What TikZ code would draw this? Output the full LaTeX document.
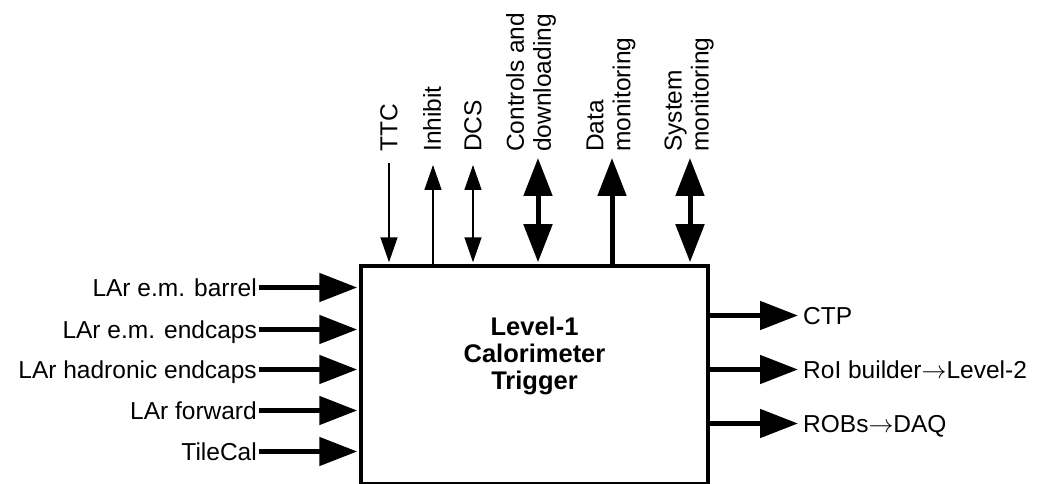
\documentclass[tikz,border=0pt]{standalone}
\usepackage{fontspec}
\setmainfont{Liberation Sans}
\usetikzlibrary{arrows.meta}
\begin{document}
\begin{tikzpicture}[x=1pt,y=-1pt,
  lbl/.style={font=\fontsize{24.5}{27}\selectfont, inner sep=0pt},
  toplbl/.style={lbl, rotate=90, anchor=west, align=left},
  thinline/.style={line width=1.5pt},
  thickline/.style={line width=5pt},
  tipS/.tip={Triangle[length=25pt,width=17pt]},
  tipL/.tip={Triangle[length=38pt,width=28pt]},
  mainbox/.style={draw, line width=3.5pt, minimum width=347pt, minimum height=218pt, inner sep=0pt}]
\useasboundingbox (0,0) rectangle (1037,484);
\node[mainbox] (box) at (534.5,375) {};
\node[font=\bfseries\fontsize{25.5}{27}\selectfont, align=center, inner sep=0pt] (title) at (534.5,356) {Level-1\\Calorimeter\\Trigger};
% inputs
\node[lbl, anchor=base east] (in1) at (257,296) {LAr e.m. barrel};
\node[lbl, anchor=base east] (in2) at (257,338) {LAr e.m. endcaps};
\node[lbl, anchor=base east] (in3) at (257,378) {LAr hadronic endcaps};
\node[lbl, anchor=base east] (in4) at (257,419) {LAr forward};
\node[lbl, anchor=base east] (in5) at (257,460) {TileCal};
\foreach \n in {in1,in2,in3,in4,in5}
  \draw[thickline,-tipL,shorten >=2pt] ([shift={(2pt,8.5pt)}]\n.base east) -- ([yshift=8.5pt]\n.base east -| box.west);
% outputs
\node[lbl, anchor=base west] (out1) at (803,324) {CTP};
\node[lbl, anchor=base west] (out2) at (803,378) {RoI builder$\rightarrow$Level-2};
\node[lbl, anchor=base west] (out3) at (803,432) {ROBs$\rightarrow$DAQ};
\foreach \n in {out1,out2,out3}
  \draw[thickline,-tipL] ([yshift=8.5pt]\n.base west -| box.east) -- ([shift={(-5pt,8.5pt)}]\n.base west);
% top labels
\node[toplbl] (ttc) at (389,152) {TTC};
\node[toplbl] (inh) at (432,152) {Inhibit};
\node[toplbl] (dcs) at (473,152) {DCS};
\node[toplbl] (ctl) at (531,152) {Controls and\\downloading};
\node[toplbl] (dat) at (611,152) {Data\\monitoring};
\node[toplbl] (sys) at (689,152) {System\\monitoring};
% top connectors
\draw[thinline,-tipS,shorten >=2pt] ([yshift=-11pt]ttc.west) -- (ttc.west |- box.north);
\draw[thinline,-tipS] ([xshift=1pt]inh.west |- box.north) -- ([shift={(1pt,-13pt)}]inh.west);
\draw[thinline,tipS-tipS,shorten <=2pt] (dcs.west |- box.north) -- ([yshift=-13pt]dcs.west);
\draw[thickline,tipL-tipL,shorten <=2pt] ([xshift=7pt]ctl.west |- box.north) -- ([shift={(7pt,-6pt)}]ctl.west);
\draw[thickline,-tipL] ([xshift=1pt]dat.west |- box.north) -- ([shift={(1pt,-6pt)}]dat.west);
\draw[thickline,tipL-tipL,shorten <=2pt] ([xshift=1pt]sys.west |- box.north) -- ([shift={(1pt,-6pt)}]sys.west);
\end{tikzpicture}
\end{document}
